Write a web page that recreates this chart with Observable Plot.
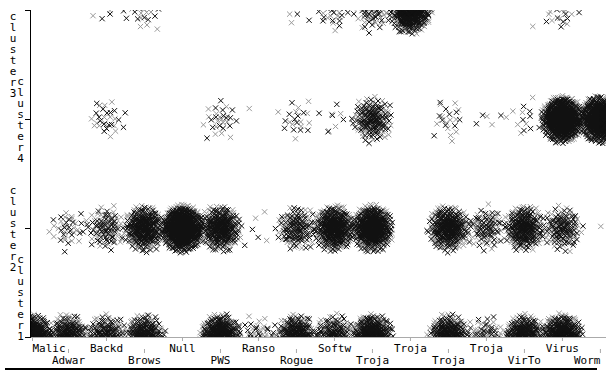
<!DOCTYPE html>
<html><head><meta charset="utf-8">
<script src="https://cdn.jsdelivr.net/npm/d3@7"></script>
<script src="https://cdn.jsdelivr.net/npm/@observablehq/plot@0.6"></script>
<style>
body{margin:0;background:#fff}
#rule{margin-left:5px;width:592px;height:2px;background:#000}
</style>
</head><body><div id="chart"></div><div id="rule"></div>
<script>
// categories
const families = ["Malic","Adwar","Backd","Brows","Null","PWS","Ranso","Rogue","Softw","Troja","Troja","Troja","Troja","VirTo","Virus","Worm"];
// y categories, bottom to top
const clusters = ["cluster1","cluster2","cluster4","cluster3"];
// estimated number of samples per family in each cluster
const countsCluster1 = [1000,380,260,400,0,700,60,420,260,700,1,480,90,480,700,0];
const countsCluster2 = [0,40,110,450,1300,450,6,180,550,750,0,450,110,350,170,1];
const countsCluster4 = [0,0,30,0,0,30,1,22,10,220,0,22,5,14,1200,1200];
const countsCluster3 = [0,0,6,28,0,0,0,7,35,80,700,0,0,1,28,0];
const countsByCluster = [countsCluster1, countsCluster2, countsCluster4, countsCluster3];

// deterministic jitter: truncated normal spread from a Halton low-discrepancy sequence
function halton(i, b){let f=1,r=0;while(i>0){f/=b;r+=f*(i%b);i=Math.floor(i/b);}return r;}
const sx = 0.23, sy = 0.09, cap = 2.5;
const tail = 1 - Math.exp(-cap * cap / 2);
const points = [];
let k = 0;
countsByCluster.forEach((counts, ci) => {
  counts.forEach((n, fi) => {
    for (let j = 0; j < n; j++) {
      k++;
      const u1 = halton(k, 2), u2 = halton(k, 3);
      const r = Math.sqrt(-2 * Math.log(1 - u1 * tail)), th = 2 * Math.PI * u2;
      const g = ((k * 0.6180339887) % 1) < 0.5;
      points.push({x: fi + sx * r * Math.cos(th), y: ci + sy * r * Math.sin(th), c: g ? "#999" : "#111"});
    }
  });
});
points.sort((a, b) => (a.c === "#999" ? 0 : 1) - (b.c === "#999" ? 0 : 1));

const idx = d3.range(families.length);
const font = "DejaVu Sans Mono";
const vert = s => s.split("").join("\n");
const axisCommon = {tickSize: 4, tickPadding: 3, stroke: "#aaa", fill: "#000", fontSize: 11, label: null, tickFormat: i => families[i]};

const chart = Plot.plot({
  width: 606, height: 368,
  marginLeft: 30, marginRight: 0, marginTop: 10, marginBottom: 31,
  style: {fontFamily: font, fontSize: "11px", background: "#fff"},
  x: {type: "linear", domain: [0, 15.16], label: null},
  y: {type: "linear", domain: [0, 3], label: null},
  color: {type: "identity"},
  marks: [
    Plot.frame({anchor: "bottom", stroke: "#aaa"}),
    Plot.dot(points, {x: "x", y: "y", symbol: "times", r: 2.5, stroke: "c", strokeWidth: 1, clip: true}),
    Plot.frame({anchor: "left", stroke: "#000"}),
    Plot.axisX(idx.filter(i => i === 0), {...axisCommon, textAnchor: "start", dx: 2}),
    Plot.axisX(idx.filter(i => i % 2 === 0 && i > 0), {...axisCommon}),
    Plot.axisX(idx.filter(i => i % 2 === 1 && i < 15), {...axisCommon, dy: 12}),
    Plot.axisX(idx.filter(i => i === 15), {...axisCommon, textAnchor: "end", dy: 12}),
    Plot.axisY([0, 1, 2, 3], {tickSize: 5, stroke: "#000", label: null, tickFormat: () => ""}),
    Plot.text([3], {y: d => d, text: d => vert(clusters[d]), frameAnchor: "left", dx: -17.5, dy: 2, textAnchor: "middle", lineAnchor: "top", fontSize: 11, lineHeight: 1}),
    Plot.text([2], {y: d => d, text: d => vert(clusters[d]), frameAnchor: "left", dx: -10, textAnchor: "middle", lineAnchor: "middle", fontSize: 11, lineHeight: 1}),
    Plot.text([1], {y: d => d, text: d => vert(clusters[d]), frameAnchor: "left", dx: -17.5, textAnchor: "middle", lineAnchor: "middle", fontSize: 11, lineHeight: 1}),
    Plot.text([0], {y: d => d, text: d => vert(clusters[d]), frameAnchor: "left", dx: -10, dy: 2, textAnchor: "middle", lineAnchor: "bottom", fontSize: 11, lineHeight: 1})
  ]
});
document.getElementById("chart").appendChild(chart);
</script>
</body></html>
